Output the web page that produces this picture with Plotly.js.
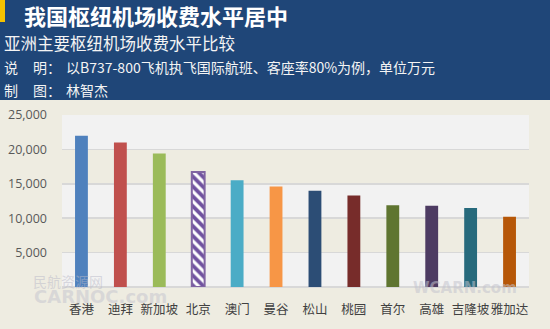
<!DOCTYPE html>
<html><head><meta charset="utf-8">
<script src="https://cdn.plot.ly/plotly-3.0.1.min.js"></script>
<style>html,body{margin:0;padding:0;background:#eeece1}</style>
</head><body>
<div id="chart" style="width:550px;height:329px"></div>
<script>
const categories = ["香港","迪拜","新加坡","北京","澳门","曼谷","松山","桃园","首尔","高雄","吉隆坡","雅加达"];
const values = [22000, 21000, 19400, 16700, 15500, 14600, 14000, 13300, 11900, 11800, 11500, 10200];
const barColors = ["#4f81bd","#c0504d","#9bbb59","#ffffff","#4bacc6","#f79646","#2c4d75","#772c2a","#5f7530","#4d3b62","#276a7c","#b65708"];
const hatchedCategory = "北京";
const yTickVals = [5000, 10000, 15000, 20000, 25000];
const yTickText = ["5,000","10,000","15,000","20,000","25,000"];
const titleText = "我国枢纽机场收费水平居中";
const subtitleText = "亚洲主要枢纽机场收费水平比较";
const noteText = "以B737-800飞机执飞国际航班、客座率80%为例，单位万元";
const authorText = "林智杰";

const W = 550, H = 329, ML = 62, MR = 21, MT = 115, MB = 42;
const px = x => (x - ML) / (W - ML - MR);
const py = y => (H - MB - y) / (H - MT - MB);
const font = "Noto Sans CJK SC, Microsoft YaHei, sans-serif";
const hi = categories.indexOf(hatchedCategory);

const trace = {
  type: "bar", x: categories, y: values,
  width: 0.33,
  marker: {color: barColors, line: {width: 0}},
  hoverinfo: "none"
};
const hatchTrace = {
  type: "bar", x: [categories[hi]], y: [values[hi]],
  width: 0.33,
  marker: {
    color: "#ffffff",
    line: {color: "#8064a2", width: 2},
    pattern: {shape: "\\", fgcolor: "#7052a0", bgcolor: "#ffffff", fgopacity: 1, size: 7, solidity: 0.55}
  },
  hoverinfo: "none"
};

const shapes = [
  {type:"rect", xref:"paper", yref:"y", x0:0, x1:1, y0:5000, y1:10000, fillcolor:"#eeece1", line:{width:0}, layer:"below"},
  {type:"rect", xref:"paper", yref:"y", x0:0, x1:1, y0:15000, y1:20000, fillcolor:"#eeece1", line:{width:0}, layer:"below"},
  {type:"rect", xref:"paper", yref:"paper", x0:px(0), x1:px(W), y0:py(100), y1:py(0), fillcolor:"#1f4678", line:{width:0}, layer:"above"},
  {type:"rect", xref:"paper", yref:"paper", x0:px(0), x1:px(5), y0:py(22), y1:py(0), fillcolor:"#f5c200", line:{width:0}, layer:"above"}
];

const white = "#f4f4f4";
const ann = (text, x, y, size, extra) => Object.assign({text, x:px(x), y:py(y), xref:"paper", yref:"paper", xanchor:"left", yanchor:"middle", showarrow:false, font:{family:font, size, color:white}}, extra || {});
const annotations = [
  ann(titleText, 22, 15, 22, {font:{family:font, size:22, color:"#ffffff", weight:"bold"}}),
  ann(subtitleText, 2, 43, 16.5),
  ann("说", 2, 67, 14),
  ann("明：", 31, 67, 14),
  ann(noteText, 64, 67, 14),
  ann("制", 2, 90, 14),
  ann("图：", 31, 90, 14),
  ann(authorText, 64, 90, 14),
  ann("民航资源网", 31, 281, 14, {font:{family:font, size:14, color:"rgba(185,185,200,0.5)"}}),
  ann("CARNOC.com", 32, 296, 18, {font:{family:"DejaVu Sans", size:18, color:"rgba(195,195,205,0.5)", weight:"bold"}}),
  ann("WCARN.com", 411, 288, 15, {font:{family:"DejaVu Sans", size:15, color:"rgba(195,195,205,0.55)", weight:"bold"}})
];

const layout = {
  width: W, height: H,
  margin: {l: ML, r: MR, t: MT, b: MB, pad: 0},
  paper_bgcolor: "#eeece1", plot_bgcolor: "#f2f2f2",
  showlegend: false, barmode: "overlay",
  xaxis: {type:"category", categoryarray: categories, categoryorder:"array", showgrid:false, zeroline:false, showline:false, ticks:"", tickangle:0,
          tickfont:{family:font, size:12.5, color:"#404040"}, ticklabelstandoff: 13},
  yaxis: {range:[0,25000], tickvals:yTickVals, ticktext:yTickText, showgrid:true, gridcolor:"#d8d8d8", gridwidth:1.5,
          zeroline:true, zerolinecolor:"#d8d8d8", zerolinewidth:1.5, showline:false, ticks:"",
          tickfont:{family:"Open Sans, Noto Sans, sans-serif", size:12.5, color:"#595959"}, ticklabelstandoff: 14},
  shapes: shapes, annotations: annotations
};

Plotly.newPlot("chart", [trace, hatchTrace], layout, {displayModeBar:false, staticPlot:true});
</script>
</body></html>
